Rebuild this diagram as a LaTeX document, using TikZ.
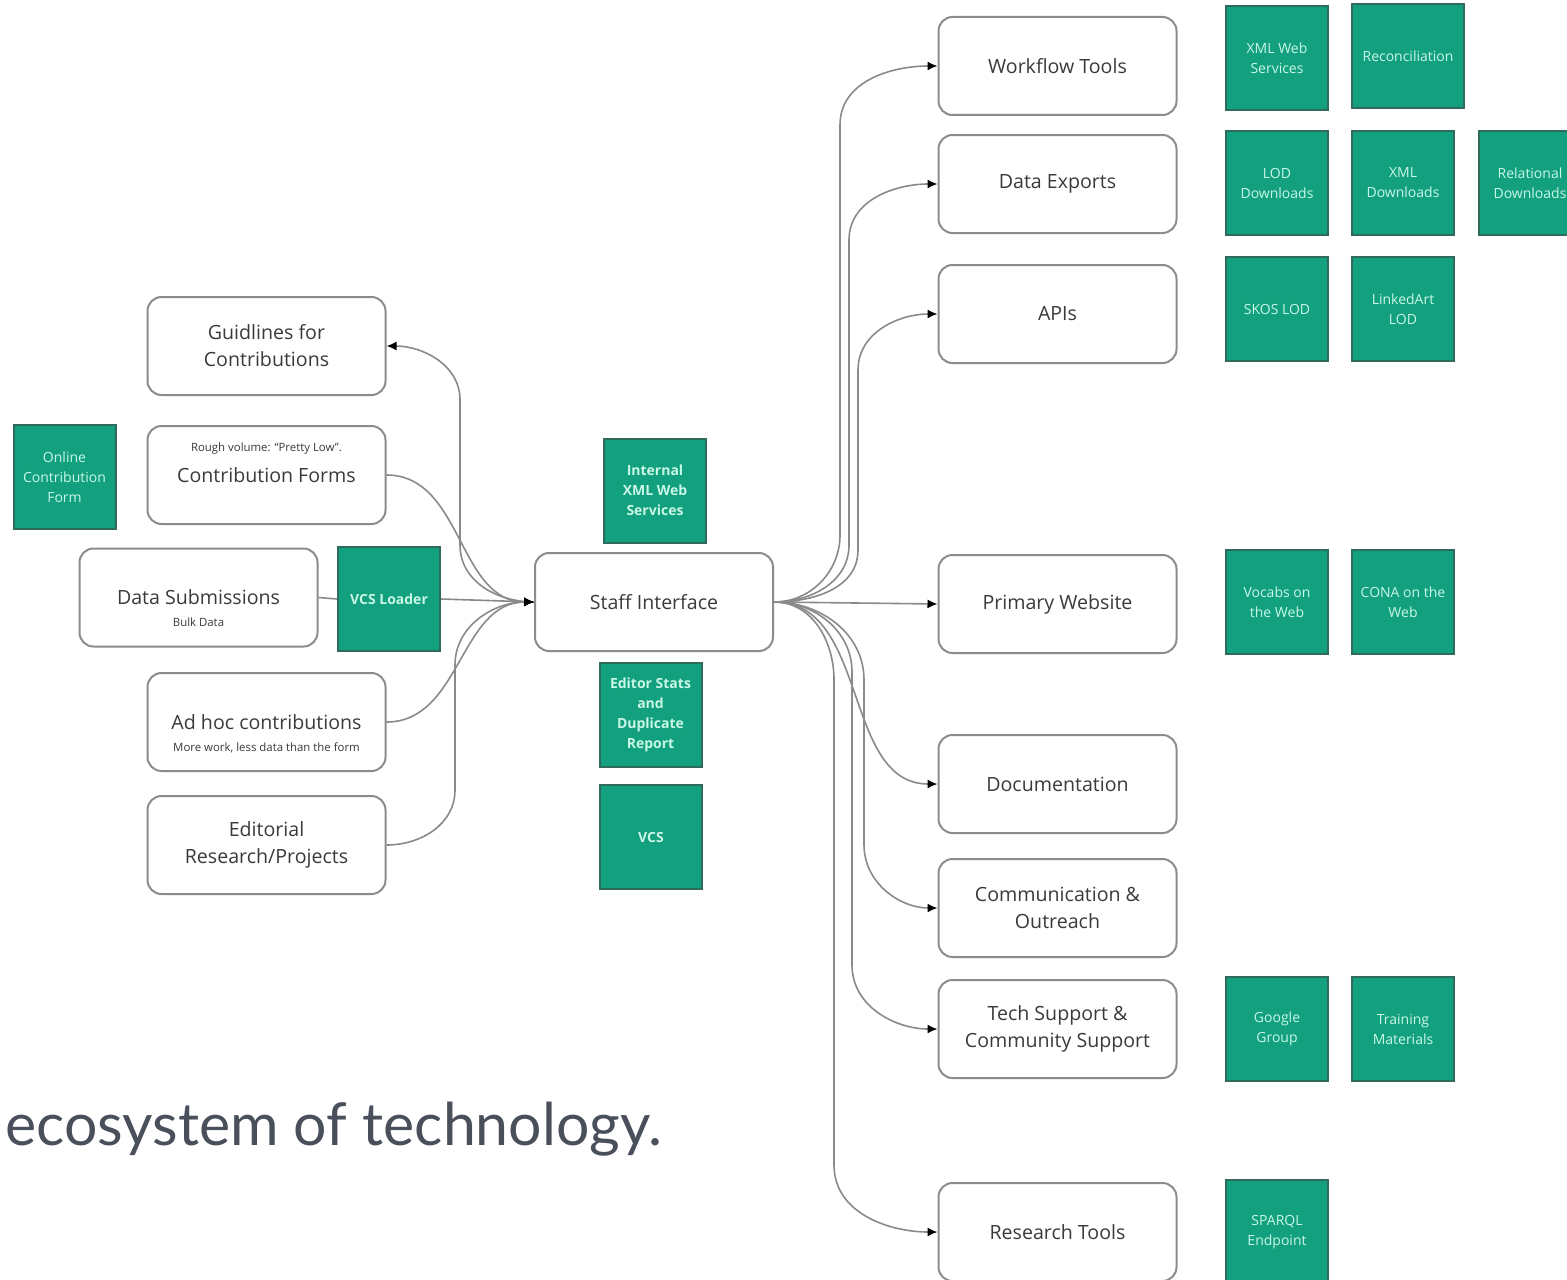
\documentclass[tikz,border=0pt]{standalone}
\usepackage{fontspec}
\usetikzlibrary{arrows.meta}
\newfontfamily\osans{Open Sans}
\newfontfamily\latof{Lato}
\definecolor{boxgray}{HTML}{8C8C8C}
\definecolor{lgray}{HTML}{8A8A8A}
\definecolor{txt}{HTML}{3A3A3A}
\definecolor{gfill}{HTML}{12A07F}
\definecolor{gborder}{HTML}{2E6B5C}
\definecolor{gtext}{HTML}{C9F7E6}
\definecolor{bigtxt}{HTML}{4A4F5C}
\newcommand{\mainf}{\osans\fontsize{9.8}{13.5}\selectfont}
\newcommand{\subf}{\osans\fontsize{5.7}{6.5}\selectfont}
\newcommand{\gfont}{\osans\fontsize{7}{10}\selectfont}
\newcommand{\gfontb}{\osans\bfseries\fontsize{7}{10}\selectfont}
\tikzset{
  rbox/.style={draw=boxgray, line width=1pt, rounded corners=7pt, fill=white,
    minimum width=119pt, minimum height=49pt, align=center, text=txt, font=\mainf},
  gbox/.style={draw=gborder, fill=gfill, line width=1pt, minimum width=51pt,
    minimum height=52pt, align=center, text=gtext, font=\gfont, inner sep=1pt},
  gboxb/.style={gbox, font=\gfontb},
  subtxt/.style={text=txt, font=\subf, inner sep=0pt},
  conn/.style={draw=lgray, line width=0.8pt, -{Latex[length=5pt,width=4.5pt,color=black]}},
  plainc/.style={draw=lgray, line width=0.8pt}
}
\begin{document}
\begin{tikzpicture}[x=0.5pt,y=-0.5pt]
\fill[white] (0,0) rectangle (1567,1279);
\useasboundingbox (0,0) rectangle (1567,1279);

% left boxes
\node[rbox] (gl) at (266.5,346) {Guidlines for\\Contributions};
\node[rbox] (cf) at (266.5,475) {Contribution Forms};
\node[subtxt] (cfsub) at (266.5,449) {Rough volume: “Pretty Low”.};
\node[rbox] (ds) at (198.5,597.5) {Data Submissions};
\node[subtxt] (dssub) at (198.5,622) {Bulk Data};
\node[rbox] (ah) at (266.5,722) {Ad hoc contributions};
\node[subtxt] (ahsub) at (266.5,748) {More work, less data than the form};
\node[rbox] (ed) at (266.5,845) {Editorial\\Research/Projects};
\node[gbox] (ocf) at (64.5,477) {Online\\Contribution\\Form};
\node[gboxb] (vcsl) at (389,599) {VCS Loader};

% centre
\node[rbox] (si) at (654,602) {Staff Interface};
\node[gboxb] (ixml) at (655,490.5) {Internal\\XML Web\\Services};
\node[gboxb] (esdr) at (650.5,714.5) {Editor Stats\\and\\Duplicate\\Report};
\node[gboxb] (vcs) at (651,837) {VCS};

% right boxes
\node[rbox] (wf) at (1057.5,66) {Workflow Tools};
\node[rbox] (de) at (1057.5,184) {Data Exports};
\node[rbox] (api) at (1057.5,314) {APIs};
\node[rbox] (pw) at (1057.5,604) {Primary Website};
\node[rbox] (doc) at (1057.5,784) {Documentation};
\node[rbox] (comm) at (1057.5,908) {Communication \&\\Outreach};
\node[rbox] (tech) at (1057.5,1029) {Tech Support \&\\Community Support};
\node[rbox] (rt) at (1057.5,1232) {Research Tools};

% right green boxes
\node[gbox] (xmlws) at (1277,58) {XML Web\\Services};
\node[gbox, minimum width=56pt] (recon) at (1408,56) {Reconciliation};
\node[gbox] (lod) at (1277,183) {LOD\\Downloads};
\node[gbox] (xmld) at (1403,183) {XML\\Downloads};
\node[gbox] (reld) at (1530,183) {Relational\\Downloads};
\node[gbox] (skos) at (1277,309) {SKOS LOD};
\node[gbox] (linked) at (1403,309) {LinkedArt\\LOD};
\node[gbox] (vocabs) at (1277,602) {Vocabs on\\the Web};
\node[gbox] (cona) at (1403,602) {CONA on the\\Web};
\node[gbox] (google) at (1277,1029) {Google\\Group};
\node[gbox] (training) at (1403,1029) {Training\\Materials};
\node[gbox] (sparql) at (1277,1232) {SPARQL\\Endpoint};

% big text
\node[anchor=base west, font=\latof\fontsize{29.5}{31}\selectfont, text=bigtxt, inner sep=0pt] (eco) at (5,1145) {ecosystem of technology.};

% left connectors
\draw[conn] (si.west) to[out=180,in=-90] (460,545) -- (460,400) to[out=90,in=0] (gl.east);
\draw[conn] (cf.east) to[out=0,in=180] (si.west);
\draw[plainc] (ds.east) -- (vcsl.west);
\draw[conn] (vcsl.east) -- (si.west);
\draw[conn] (ah.east) to[out=0,in=180] (si.west);
\draw[conn] (ed.east) to[out=0,in=-90] (455,790) -- (455,665) to[out=90,in=180] (si.west);

% right connectors
\draw[conn] (si.east) to[out=0,in=-90] (840,535) -- (840,125) to[out=90,in=180] (wf.west);
\draw[conn] (si.east) to[out=0,in=-90] (849,545) -- (849,240) to[out=90,in=180] (de.west);
\draw[conn] (si.east) to[out=0,in=-90] (858,550) -- (858,370) to[out=90,in=180] (api.west);
\draw[conn] (si.east) -- (pw.west);
\draw[conn] (si.east) to[out=0,in=180] (doc.west);
\draw[conn] (si.east) to[out=0,in=90] (864,680) -- (864,845) to[out=-90,in=180] (comm.west);
\draw[conn] (si.east) to[out=0,in=90] (852,672) -- (852,965) to[out=-90,in=180] (tech.west);
\draw[conn] (si.east) to[out=0,in=90] (834,680) -- (834,1165) to[out=-90,in=180] (rt.west);
\end{tikzpicture}
\end{document}
